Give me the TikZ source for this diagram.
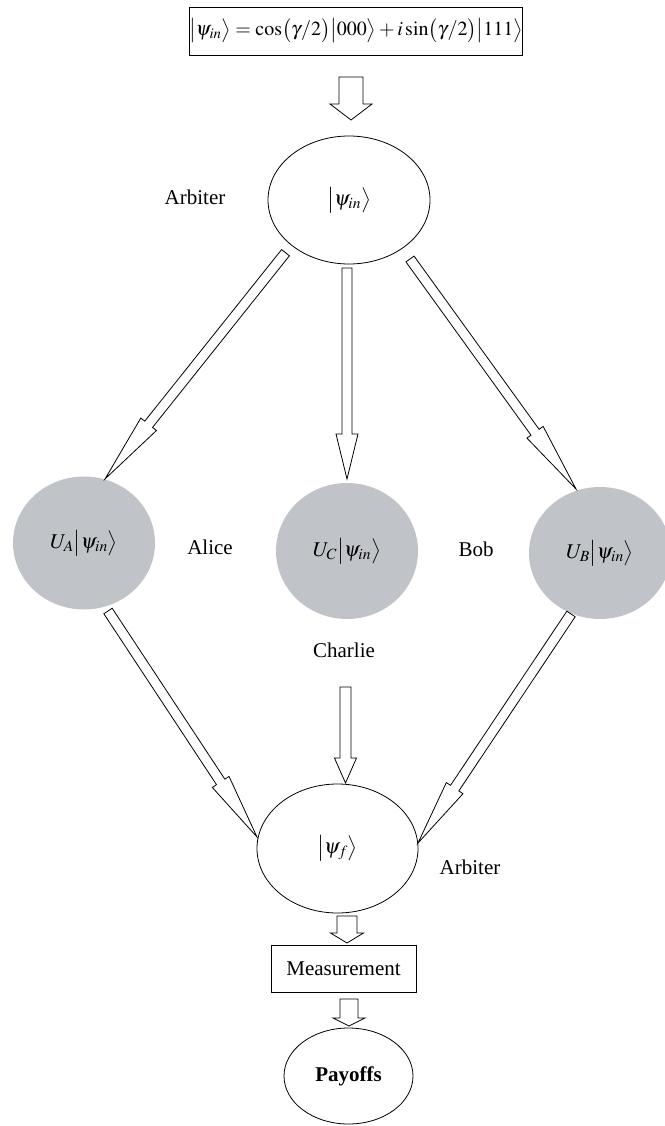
\documentclass[tikz,border=0pt]{standalone}
\usepackage{mathptmx}
\usepackage{fontspec}
\setmainfont{Liberation Serif}
\usetikzlibrary{calc,shapes.geometric}
\definecolor{playerfill}{RGB}{192,196,201}

% hollow block arrow: tail, tip, half shaft width, half head width, head length
\newcommand\blockarrow[5]{%
  \coordinate (ba-base) at ($(#2)!#5!(#1)$);
  \draw[hollowarrow]
    ($(#1)!#3!90:(#2)$) -- ($(ba-base)!#3!90:(#2)$) -- ($(ba-base)!#4!90:(#2)$)
    -- (#2)
    -- ($(ba-base)!#4!-90:(#2)$) -- ($(ba-base)!#3!-90:(#2)$) -- ($(#1)!#3!-90:(#2)$)
    -- cycle;}

\newcommand\ket[1]{\bigl|#1\bigr\rangle}

\begin{document}
\begin{tikzpicture}[x=1pt,y=-1pt,
  font=\fontsize{21}{25}\selectfont,
  hollowarrow/.style={draw=black, fill=white, line width=0.8pt, line join=miter},
  framebox/.style={draw=black, line width=0.8pt, inner sep=0pt},
  stateoval/.style={ellipse, draw=black, line width=0.8pt, inner sep=0pt},
  playeroval/.style={ellipse, fill=playerfill, inner sep=0pt},
  tag/.style={inner sep=0pt}]
\useasboundingbox (0,0) rectangle (664,1126);

% initial state
\node[framebox, minimum width=332pt, minimum height=48pt,
      font=\fontsize{20}{24}\selectfont] (init) at (356,31)
  {$\ket{\psi_{in}} = \cos\bigl(\gamma/2\bigr)\ket{000} + i\sin\bigl(\gamma/2\bigr)\ket{111}$};

% arbiter prepares the state
\node[stateoval, minimum width=162pt, minimum height=128pt] (arb) at (349,200) {$\ket{\psi_{in}}$};
\node[tag] (arbtag) at (195,197) {Arbiter};

% players
\node[playeroval, minimum width=142pt, minimum height=133pt] (alice) at (84,543) {$U_A\ket{\psi_{in}}$};
\node[playeroval, minimum width=142pt, minimum height=136pt] (charlie) at (347,551) {$U_C\ket{\psi_{in}}$};
\node[playeroval, minimum width=142pt, minimum height=132pt] (bob) at (600,553) {$U_B\ket{\psi_{in}}$};
\node[tag] (alicetag) at (210,547) {Alice};
\node[tag] (bobtag) at (476,549) {Bob};
\node[tag] (charlietag) at (344,650) {Charlie};

% final state
\node[stateoval, minimum width=161pt, minimum height=129pt] (fin) at (337.5,848.5) {$\ket{\psi_f}$};
\node[tag] (fintag) at (470,867) {Arbiter};

\node[framebox, minimum width=145pt, minimum height=47pt] (meas) at (343.5,968.5) {Measurement};
\node[stateoval, minimum width=129pt, minimum height=96pt] (pay) at (348.5,1076) {\textbf{Payoffs}};

% arrow end points
\coordinate (s0) at (351,77);    \coordinate (e0) at (351,120);
\coordinate (sA) at (285.5,252.7); \coordinate (eA) at (105,479);
\coordinate (sC) at (347,268);   \coordinate (eC) at (347,479);
\coordinate (sB) at (410,259);   \coordinate (eB) at (576,489);
\coordinate (sA2) at (108,611);  \coordinate (eA2) at (257,837);
\coordinate (sC2) at (345.5,687); \coordinate (eC2) at (345.5,783);
\coordinate (sB2) at (571,614);  \coordinate (eB2) at (418,843);
\coordinate (s3) at (347,916);   \coordinate (e3) at (347,943);
\coordinate (s4) at (349,999);   \coordinate (e4) at (349,1026);

\blockarrow{s0}{e0}{12pt}{21pt}{16pt}
\blockarrow{sA}{eA}{5pt}{10pt}{70pt}
\blockarrow{sC}{eC}{5pt}{11pt}{45pt}
\blockarrow{sB}{eB}{5pt}{10pt}{70pt}
\blockarrow{sA2}{eA2}{5pt}{10pt}{66pt}
\blockarrow{sC2}{eC2}{5.5pt}{11pt}{25pt}
\blockarrow{sB2}{eB2}{5pt}{10pt}{66pt}
\blockarrow{s3}{e3}{10pt}{16.5pt}{10pt}
\blockarrow{s4}{e4}{9pt}{16pt}{8pt}
\end{tikzpicture}
\end{document}
